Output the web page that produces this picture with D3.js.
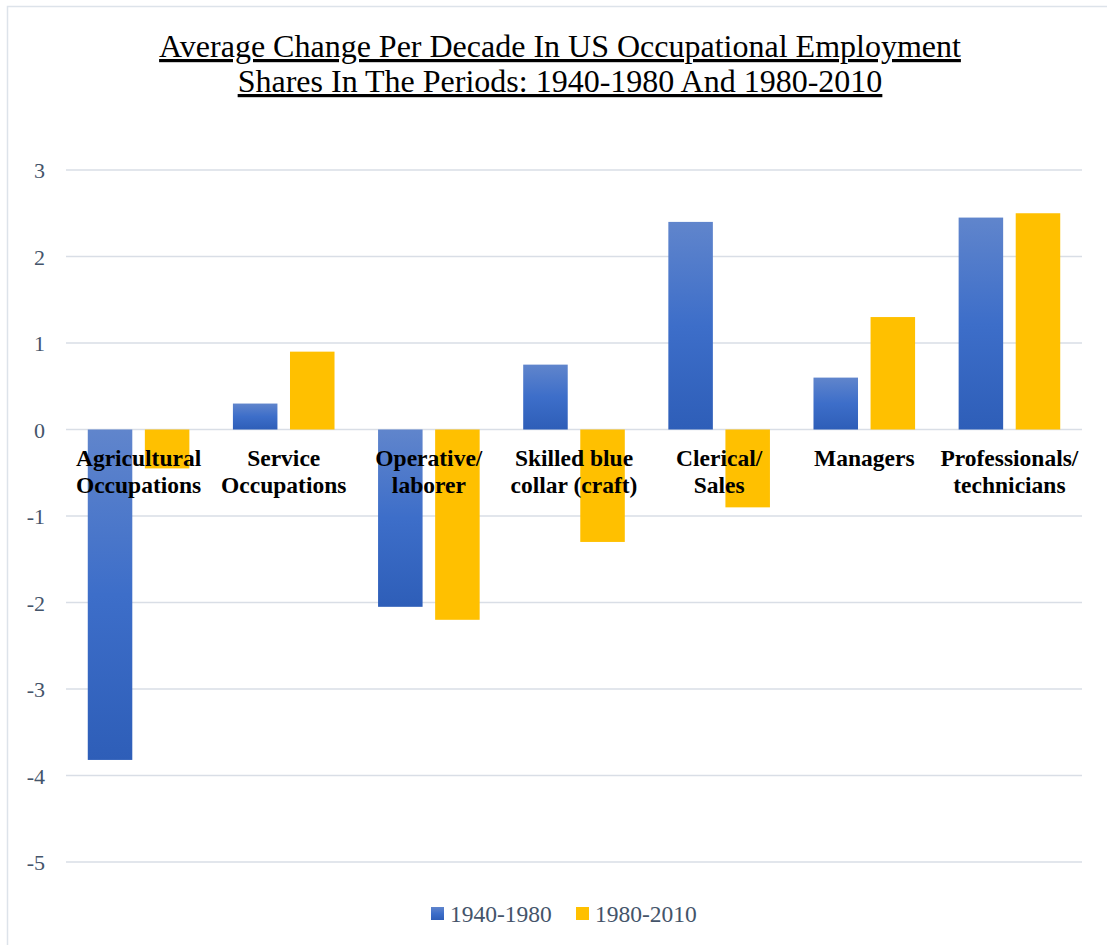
<!DOCTYPE html>
<html>
<head>
<meta charset="utf-8">
<script src="https://cdn.jsdelivr.net/npm/d3@7"></script>
<style>
  body { margin: 0; background: #fff; }
  svg { display: block; }
</style>
</head>
<body>
<div id="chart"></div>
<script>
const categories = [
    ["Agricultural", "Occupations"],
    ["Service", "Occupations"],
    ["Operative/", "laborer"],
    ["Skilled blue", "collar (craft)"],
    ["Clerical/", "Sales"],
    ["Managers"],
    ["Professionals/", "technicians"]
];
const seriesNames = ["1940-1980", "1980-2010"];
const values1940 = [-3.82, 0.3, -2.05, 0.75, 2.4, 0.6, 2.45];
const values1980 = [-0.45, 0.9, -2.2, -1.3, -0.9, 1.3, 2.5];
const yTicks = [3, 2, 1, 0, -1, -2, -3, -4, -5];

const width = 1107, height = 945;
const margin = {left: 66, right: 25};
const serif = "'Liberation Serif', 'Times New Roman', Times, serif";

const svg = d3.select("#chart").append("svg")
    .attr("width", width)
    .attr("height", height)
    .attr("font-family", serif);

const defs = svg.append("defs");
const grad = defs.append("linearGradient")
    .attr("id", "blueGrad")
    .attr("x1", 0).attr("y1", 0).attr("x2", 0).attr("y2", 1);
grad.append("stop").attr("offset", "0%").attr("stop-color", "#6085cc");
grad.append("stop").attr("offset", "50%").attr("stop-color", "#3d6ec9");
grad.append("stop").attr("offset", "100%").attr("stop-color", "#2e5eb8");

// frame
svg.append("rect")
    .attr("x", 7.5).attr("y", 6.5)
    .attr("width", width).attr("height", height)
    .attr("fill", "none")
    .attr("stroke", "#dde3ea")
    .attr("stroke-width", 1.5);

// title
const title = svg.append("text")
    .attr("text-anchor", "middle")
    .attr("font-size", 32)
    .attr("fill", "#000")
    .attr("text-decoration", "underline");
title.append("tspan").attr("x", 560).attr("y", 57)
    .text("Average Change Per Decade In US Occupational Employment");
title.append("tspan").attr("x", 560).attr("y", 92)
    .text("Shares In The Periods: 1940-1980 And 1980-2010");

const y = d3.scaleLinear().domain([-5, 3]).range([862, 170]);
const x = d3.scaleBand()
    .domain(d3.range(categories.length))
    .range([margin.left, width - margin.right])
    .paddingInner(0.3).paddingOuter(0.15);
const xs = d3.scaleBand().domain([0, 1]).range([0, x.bandwidth()]).paddingInner(0.22);

// gridlines
svg.append("g")
    .selectAll("line")
    .data(yTicks)
    .join("line")
    .attr("x1", margin.left).attr("x2", width - margin.right)
    .attr("y1", d => y(d)).attr("y2", d => y(d))
    .attr("stroke", "#d9dee6")
    .attr("stroke-width", 1.5);

// y axis labels
svg.append("g")
    .selectAll("text")
    .data(yTicks)
    .join("text")
    .attr("x", 45)
    .attr("y", d => y(d) + 8)
    .attr("text-anchor", "end")
    .attr("font-size", 22)
    .attr("fill", "#44546a")
    .text(d => d);

// bars
const series = [values1940, values1980];
const fills = ["url(#blueGrad)", "#ffc000"];
series.forEach((vals, s) => {
    svg.append("g")
        .selectAll("rect")
        .data(vals)
        .join("rect")
        .attr("x", (d, i) => x(i) + xs(s))
        .attr("width", xs.bandwidth())
        .attr("y", d => y(Math.max(0, d)))
        .attr("height", d => Math.abs(y(d) - y(0)))
        .attr("fill", fills[s]);
});

// category labels
const catG = svg.append("g");
categories.forEach((lines, i) => {
    const t = catG.append("text")
        .attr("text-anchor", "middle")
        .attr("font-size", 23.5)
        .attr("font-weight", "bold")
        .attr("fill", "#000");
    lines.forEach((l, j) => {
        t.append("tspan")
            .attr("x", x(i) + x.bandwidth() / 2)
            .attr("y", 466 + j * 27)
            .text(l);
    });
});

// legend
const legend = svg.append("g");
const legX = [431, 576];
seriesNames.forEach((n, s) => {
    legend.append("rect")
        .attr("x", legX[s]).attr("y", 907)
        .attr("width", 13).attr("height", 13)
        .attr("fill", fills[s]);
    legend.append("text")
        .attr("x", legX[s] + 19).attr("y", 922)
        .attr("font-size", 23.5)
        .attr("fill", "#44546a")
        .text(n);
});
</script>
</body>
</html>
